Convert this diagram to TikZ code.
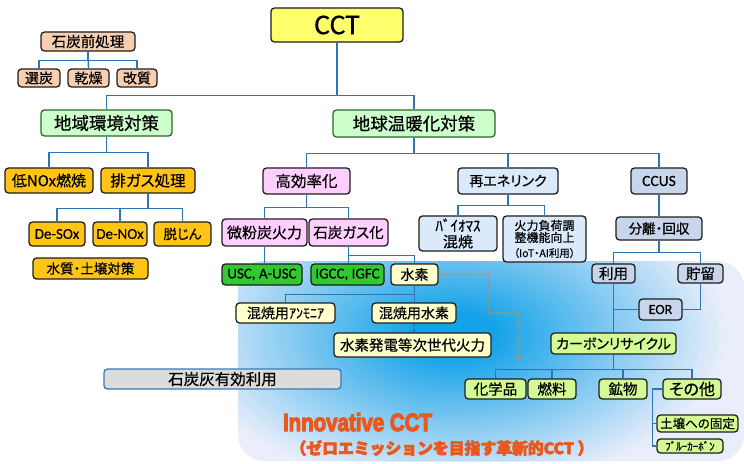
\documentclass[tikz,border=0pt]{standalone}
\usepackage{fontspec}
\usetikzlibrary{arrows.meta,calc}
\setmainfont{Noto Sans CJK JP}[RawFeature=+palt, FakeBold=0.5]
\newfontfamily\lat{Carlito}[FakeBold=0.3]
\newfontfamily\innof{Liberation Sans}[UprightFeatures={FakeBold=5}, BoldFeatures={FakeBold=5}]
\newfontfamily\jpheavy{Noto Sans CJK JP}[BoldFeatures={FakeBold=4}, UprightFeatures={FakeBold=4}]
\newcommand\myfs[1]{\fontsize{#1}{#1}\selectfont}
\definecolor{cyellow}{RGB}{255,255,110}
\definecolor{cpeach}{RGB}{248,206,176}
\definecolor{clgreen}{RGB}{204,255,204}
\definecolor{gborder}{RGB}{40,105,40}
\definecolor{corange}{RGB}{255,196,20}
\definecolor{cpink}{RGB}{255,208,255}
\definecolor{clblue}{RGB}{218,234,250}
\definecolor{csteel}{RGB}{200,214,236}
\definecolor{cgreen}{RGB}{50,200,50}
\definecolor{cpyellow}{RGB}{255,255,204}
\definecolor{clime}{RGB}{212,250,150}
\definecolor{cgray}{RGB}{220,220,220}
\definecolor{ashb}{RGB}{60,120,180}
\definecolor{cblue}{RGB}{46,117,182}
\definecolor{bdark}{RGB}{30,30,30}
\definecolor{garr}{RGB}{150,150,130}
\definecolor{innored}{RGB}{233,88,28}
\definecolor{bluein}{RGB}{20,162,232}
\definecolor{blueout}{RGB}{234,238,250}
\tikzset{
  box/.style={draw=bdark, line width=1.3pt, rounded corners=3.5pt, inner sep=0pt, align=center, text=black},
  conn/.style={draw=cblue, line width=1.4pt},
  garrow/.style={draw=garr, line width=1.4pt, dash pattern=on 3pt off 2pt, -{Triangle[length=6pt,width=6pt]}}
}
\begin{document}
\begin{tikzpicture}[x=1pt,y=-1pt]
\fill[white] (0,0) rectangle (744,463);
\useasboundingbox (0,0) rectangle (744,463);
\begin{scope}
\clip[rounded corners=26pt] (238,261) rectangle (744,461);
\fill[blueout] (238,261) rectangle (744,461);
\foreach \i in {0,...,40} {
  \pgfmathsetmacro\f{1-0.85*\i/40}
  \pgfmathsetmacro\p{100*\i/40}
  \fill[bluein!\p!blueout] (455,335) ellipse [x radius=\f*275pt, y radius=\f*155pt];
}
\end{scope}

% top
\node[box, fill=cyellow, minimum width=132pt, minimum height=34pt] (cct) at (337,25) {\lat\myfs{29}CCT};
\node[box, fill=cpeach, minimum width=94pt, minimum height=19pt] (pre) at (88,41.5) {\myfs{14.5}石炭前処理};
\node[box, fill=cpeach, minimum width=42pt, minimum height=18pt] (sel) at (39,78) {\myfs{14}選炭};
\node[box, fill=cpeach, minimum width=41pt, minimum height=18pt] (kan) at (88.5,78) {\myfs{14}乾燥};
\node[box, fill=cpeach, minimum width=40pt, minimum height=18pt] (kai) at (137,78) {\myfs{14}改質};
\node[box, draw=gborder, fill=clgreen, minimum width=131pt, minimum height=26pt] (reg) at (106.5,123) {\myfs{17.5}地域環境対策};
\node[box, draw=gborder, fill=clgreen, minimum width=162pt, minimum height=27pt] (glob) at (414,123.5) {\myfs{17.5}地球温暖化対策};

% regional
\node[box, fill=corange, minimum width=88pt, minimum height=25pt] (lnox) at (49,180.5) {\myfs{15}低NOx燃焼};
\node[box, fill=corange, minimum width=94pt, minimum height=25pt] (exh) at (148,180.5) {\myfs{15.5}排ガス処理};
\node[box, fill=corange, minimum width=56pt, minimum height=24pt] (desox) at (57,234) {\lat\myfs{15}De-SOx};
\node[box, fill=corange, minimum width=54pt, minimum height=24pt] (denox) at (120,234) {\lat\myfs{15}De-NOx};
\node[box, fill=corange, minimum width=57pt, minimum height=24pt] (dust) at (182.5,234) {\myfs{13.5}脱じん};
\node[box, fill=corange, minimum width=115pt, minimum height=21pt] (water) at (90.5,268.5) {\myfs{13.5}水質・土壌対策};

% efficiency
\node[box, fill=cpink, minimum width=87pt, minimum height=26pt] (eff) at (306.5,181) {\myfs{15.5}高効率化};
\node[box, fill=cpink, minimum width=85pt, minimum height=27pt] (pc) at (264.5,232.5) {\myfs{15}微粉炭火力};
\node[box, fill=cpink, minimum width=79pt, minimum height=27pt] (gas) at (348.5,232.5) {\myfs{14.5}石炭ガス化};
\node[box, fill=cgreen, minimum width=80pt, minimum height=21pt] (usc) at (262,274.5) {\lat\myfs{15}USC, A-USC};
\node[box, fill=cgreen, minimum width=73pt, minimum height=21pt] (igcc) at (347.5,274.5) {\lat\myfs{15}IGCC, IGFC};
\node[box, fill=cpyellow, minimum width=47pt, minimum height=21pt] (h2) at (414.5,274.5) {\myfs{14}水素};
\node[box, fill=cpyellow, minimum width=99pt, minimum height=20pt] (amm) at (285.5,313) {\myfs{14}混焼用ｱﾝﾓﾆｱ};
\node[box, fill=cpyellow, minimum width=84pt, minimum height=20pt] (mh2) at (414,313) {\myfs{14}混焼用水素};
\node[box, fill=cpyellow, minimum width=157pt, minimum height=24pt] (h2p) at (412.5,345) {\myfs{14.5}水素発電等次世代火力};
\node[box, draw=ashb, fill=cgray, minimum width=237pt, minimum height=20pt] (ash) at (222.5,379) {\myfs{15.5}石炭灰有効利用};

% renewables
\node[box, fill=clblue, minimum width=100pt, minimum height=26pt] (re) at (508,181) {\myfs{14}再エネリンク};
\node[box, fill=clblue, minimum width=78pt, minimum height=35pt, font=\fontsize{15}{16}\selectfont] (bio) at (458,233.5) {ﾊﾞｲｵﾏｽ\\混焼};
\node[box, fill=clblue, minimum width=83pt, minimum height=46pt, font=\fontsize{12}{12}\selectfont] (load) at (544.5,239) {火力負荷調\\整機能向上\\[3pt]{\myfs{10.5}（IoT・AI利用）}};

% CCUS
\node[box, fill=csteel, minimum width=56pt, minimum height=26pt] (ccus) at (659,181) {\lat\myfs{15.5}CCUS};
\node[box, fill=csteel, minimum width=86pt, minimum height=23pt] (sep) at (659,228.5) {\myfs{13.5}分離・回収};
\node[box, fill=csteel, minimum width=43pt, minimum height=19pt] (use) at (613.5,273.5) {\myfs{14.5}利用};
\node[box, fill=csteel, minimum width=45pt, minimum height=19pt] (stor) at (700.5,273.5) {\myfs{14.5}貯留};
\node[box, fill=csteel, minimum width=43pt, minimum height=21pt] (eor) at (660.5,309.5) {\lat\myfs{14}EOR};
\node[box, fill=clime, minimum width=125pt, minimum height=21pt] (cr) at (613.5,343.5) {\myfs{14}カーボンリサイクル};
\node[box, fill=clime, minimum width=61pt, minimum height=20pt] (chem) at (495.5,389) {\myfs{14.5}化学品};
\node[box, fill=clime, minimum width=48pt, minimum height=20pt] (fuel) at (552,389) {\myfs{14.5}燃料};
\node[box, fill=clime, minimum width=48pt, minimum height=20pt] (mine) at (623,389) {\myfs{14.5}鉱物};
\node[box, fill=clime, minimum width=58pt, minimum height=20pt] (other) at (692,389) {\myfs{16}その他};
\node[box, fill=clime, minimum width=81pt, minimum height=17pt] (soil) at (697.5,423.5) {\myfs{12.5}土壌への固定};
\node[box, fill=clime, minimum width=66pt, minimum height=14pt] (bluec) at (690,446) {\myfs{11}ﾌﾞﾙｰｶｰﾎﾞﾝ};

% Innovative CCT
\node[inner sep=0pt, text=innored, anchor=base] (inno) at (357.5,431) {\resizebox{149pt}{18pt}{\innof\bfseries Innovative CCT}};
\node[inner sep=0pt, text=innored] (inno2) at (442,448) {\resizebox{303pt}{!}{\jpheavy\bfseries （ゼロエミッションを目指す革新的CCT ）}};

% connectors
\draw[conn] (pre.south) -- ++(0,9) -| (sel.north);
\draw[conn] (pre.south) -- ++(0,9) -| (kai.north);
\draw[conn] (pre.south) -- (kan.north);
\draw[conn] (cct.south) -- ++(0,53) -| (reg.north);
\draw[conn] (cct.south) -- ++(0,53) -| (glob.north);
\draw[conn] (reg.south) -- ++(0,16) -| (lnox.north);
\draw[conn] (reg.south) -- ++(0,16) -| (exh.north);
\draw[conn] (exh.south) -- ++(0,15) -| (desox.north);
\draw[conn] (exh.south) -- ++(0,15) -| (dust.north);
\draw[conn] (exh.south) -- ++(0,15) -| (denox.north);
\draw[conn] (glob.south) -- ++(0,16) -| (eff.north);
\draw[conn] (glob.south) -- ++(0,16) -| (re.north);
\draw[conn] (glob.south) -- ++(0,16) -| (ccus.north);
\draw[conn] (eff.south) -- ++(0,13) -| (pc.north);
\draw[conn] (eff.south) -- ++(0,13) -| (gas.north);
\draw[conn] (pc.south) -- (pc.south |- usc.north);
\draw[conn] (gas.south) -- (gas.south |- igcc.north);
\draw[conn] (gas.south) -- ++(0,9) -| (h2.north);
\draw[conn] (h2.south) -- ++(0,9) -| (amm.north);
\draw[conn] (h2.south) -- (h2.south |- mh2.north);
\draw[conn, dash pattern=on 3pt off 2pt] (mh2.south) -- (mh2.south |- h2p.north);
\coordinate (arrend) at (518,362);
\draw[garrow] (h2.east) -- ++(50,0) -- ++(0,38.5) -| (arrend);
\draw[conn] (re.south) -- ++(0,11) -| (bio.north);
\draw[conn] (re.south) -- ++(0,11) -| (load.north);
\draw[conn] (ccus.south) -- (sep.north);
\draw[conn] (sep.south) -- ++(0,12) -| (use.north);
\draw[conn] (sep.south) -- ++(0,12) -| (stor.north);
\draw[conn] (use.south) -- (use.south |- cr.north);
\draw[conn] (eor.west) -- (eor.west -| use.south);
\draw[conn] (eor.east) -| (stor.south);
\draw[conn] (cr.south) -- ++(0,15) -| (chem.north);
\draw[conn] (cr.south) -- ++(0,15) -| (fuel.north);
\draw[conn] (cr.south) -- ++(0,15) -| (mine.north);
\draw[conn] (cr.south) -- ++(0,15) -| (other.north);
\draw[conn] (other.west) -- ++(-10,0) |- (soil.west);
\draw[conn] (other.west) -- ++(-10,0) |- (bluec.west);
\end{tikzpicture}
\end{document}
